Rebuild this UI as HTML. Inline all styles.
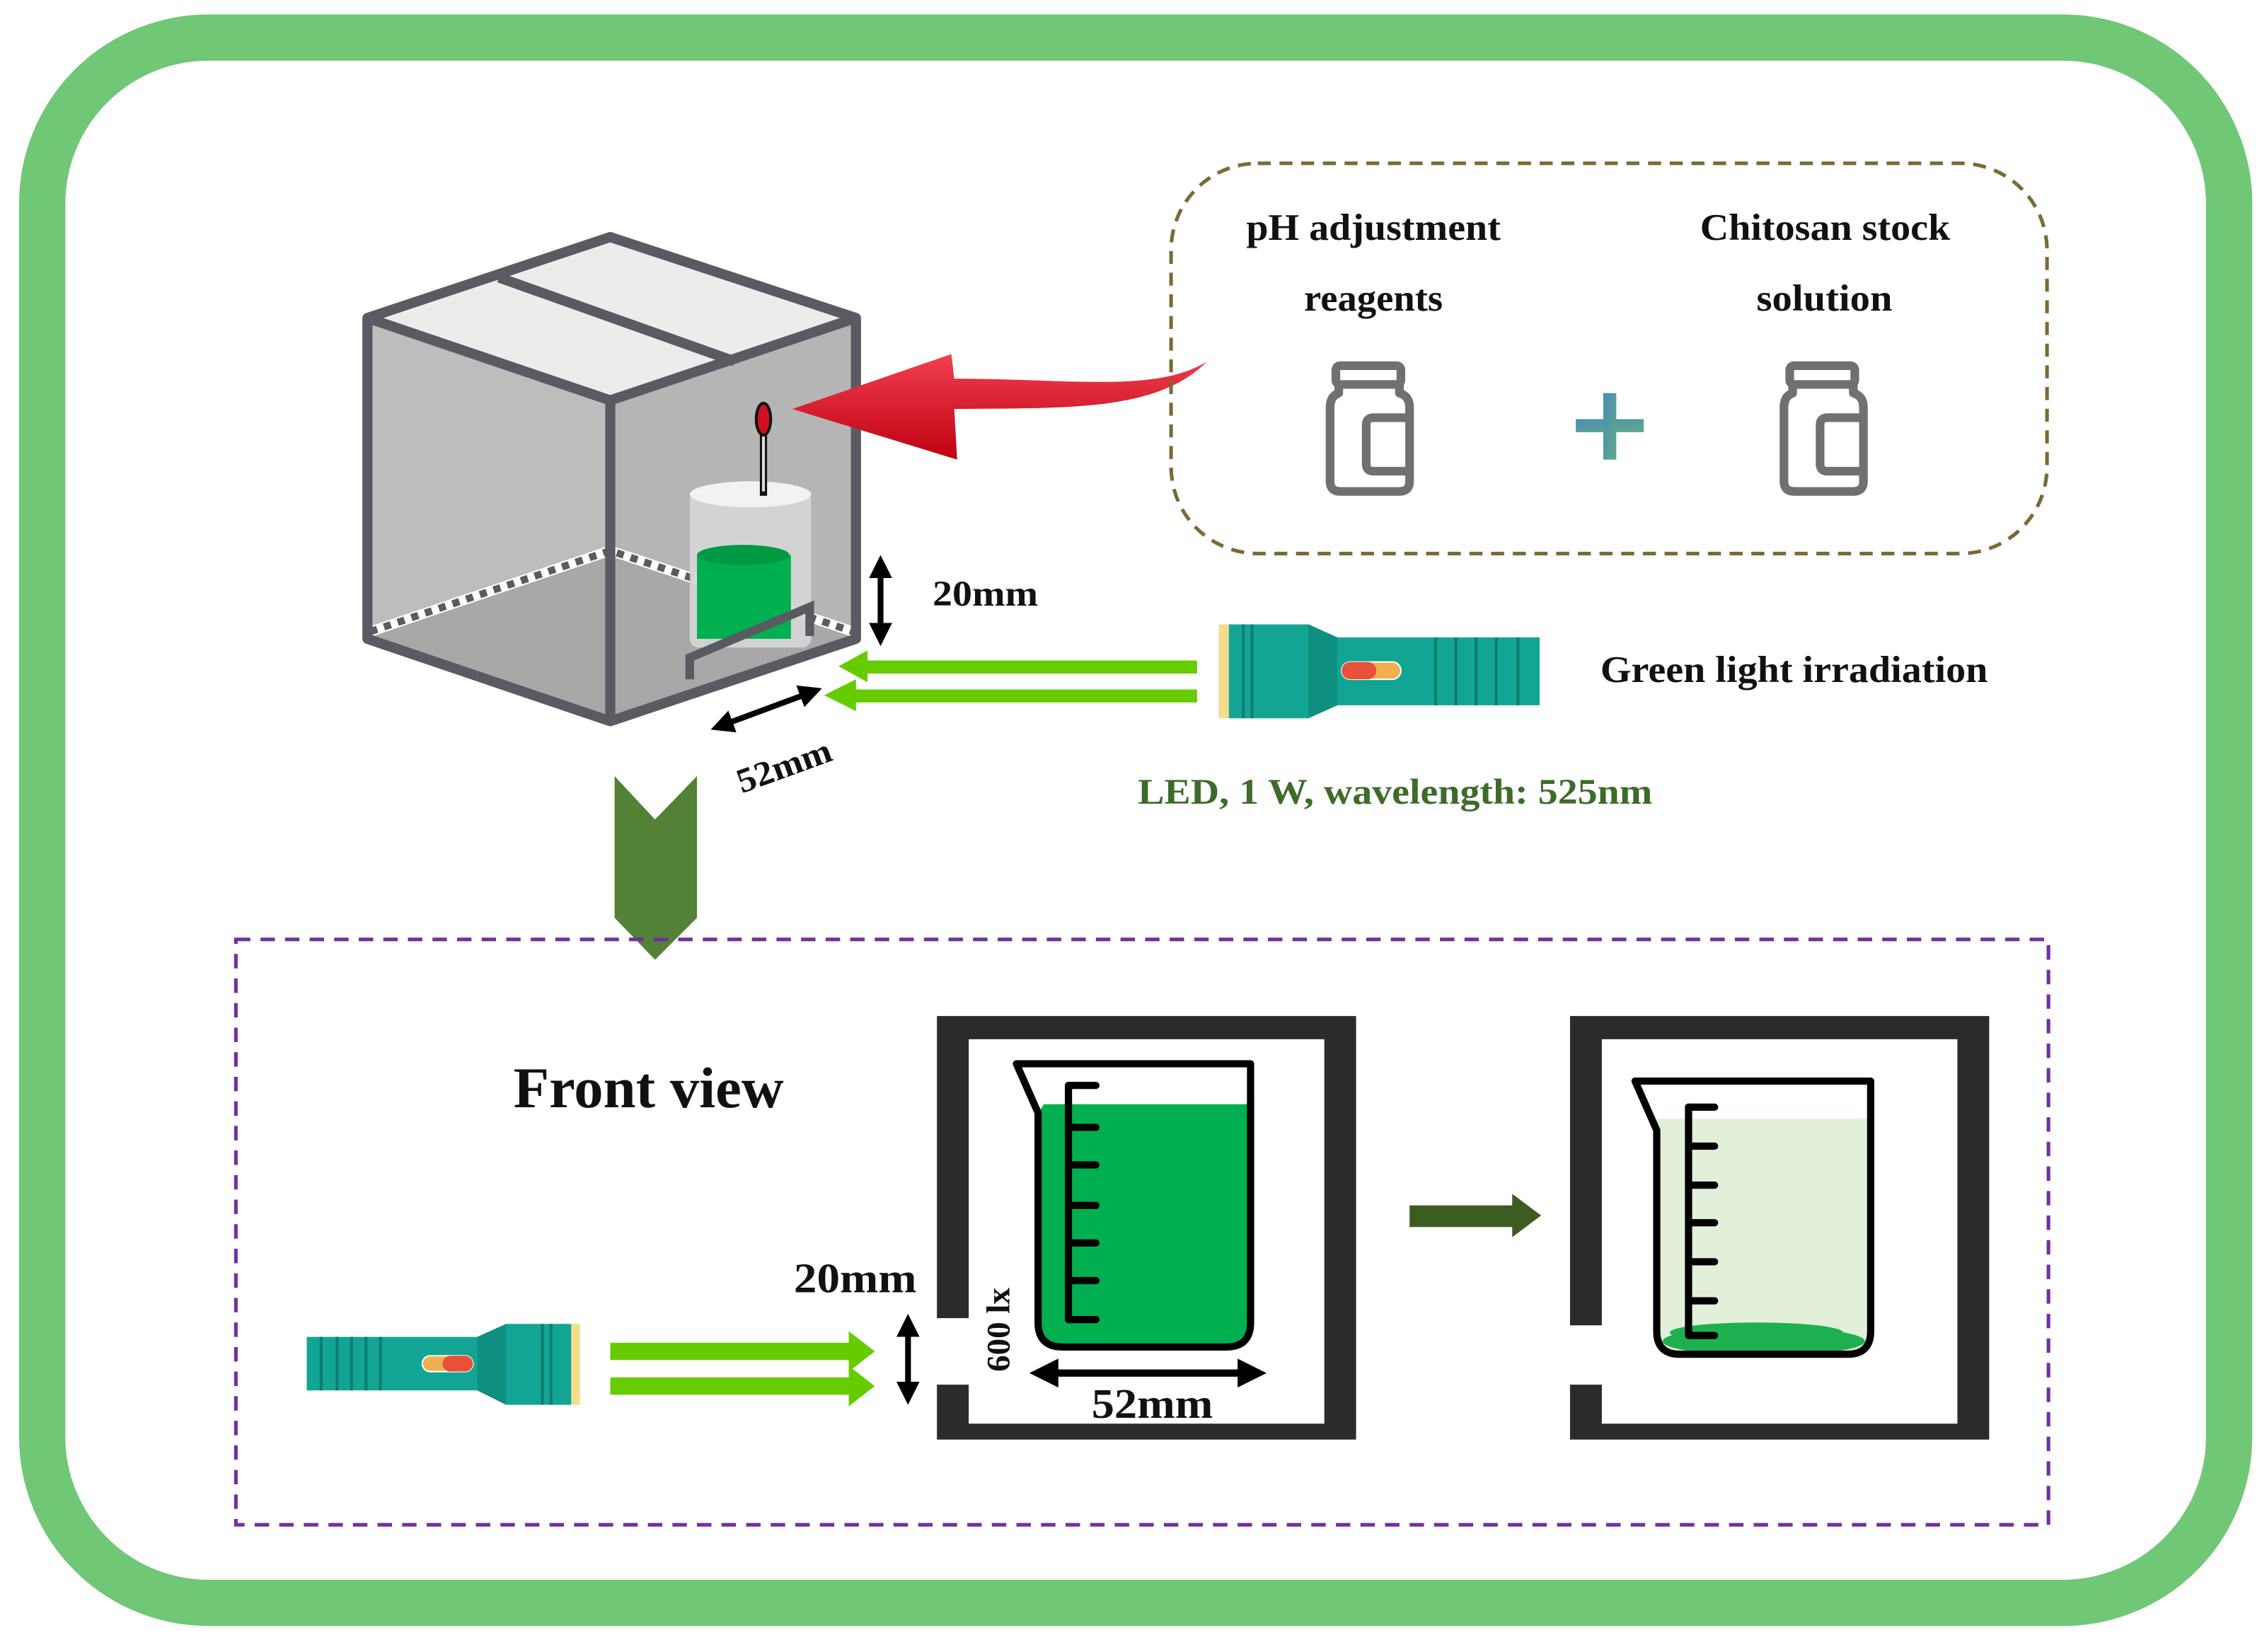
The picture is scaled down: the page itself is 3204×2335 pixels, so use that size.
<!DOCTYPE html>
<html><head><meta charset="utf-8"><style>
html,body{margin:0;padding:0;background:#fff;}
svg{display:block;}
text{font-family:"Liberation Serif",serif;font-weight:bold;fill:#111;}
</style></head><body>
<svg width="3204" height="2335" viewBox="0 0 1568 1143" xmlns="http://www.w3.org/2000/svg">
<defs>
<marker id="ah" viewBox="0 0 10 10" refX="5" refY="5" markerWidth="4" markerHeight="4" orient="auto-start-reverse"><path d="M0,0 L10,5 L0,10 z" fill="#000"/></marker>
<linearGradient id="pl" x1="0" y1="0" x2="1" y2="1"><stop offset="0" stop-color="#4b8fb5"/><stop offset="1" stop-color="#5fa88a"/></linearGradient>
<linearGradient id="red" x1="0" y1="0" x2="0" y2="1"><stop offset="0" stop-color="#f04050"/><stop offset="1" stop-color="#c00010"/></linearGradient>
</defs>
<rect width="1568" height="1143" fill="#fff"/>
<rect x="29" y="26" width="1513" height="1083" rx="115" fill="#fff" stroke="#70c775" stroke-width="32"/>

<!-- cube -->
<polygon points="254,220 422,164 592,220 422,277" fill="#ececec"/>
<polygon points="254,220 422,277 422,499 254,442" fill="#bdbdbd"/>
<polygon points="422,277 592,220 592,442 422,499" fill="#b5b5b5"/>
<polygon points="254,442 422,381 592,442 422,499" fill="#a8a8a8"/>
<polyline points="256,437 422,381 590,437" fill="none" stroke="#fff" stroke-width="7"/>
<polyline points="256,437 422,381 590,437" fill="none" stroke="#5a5a63" stroke-width="5" stroke-dasharray="5,5"/>
<rect x="477" y="340" width="84" height="108" rx="6" fill="#d6d6d6" opacity="0.9"/>
<ellipse cx="519" cy="342" rx="42" ry="9" fill="#f2f2f2"/>
<rect x="482" y="384" width="65" height="58" fill="#00b050"/>
<ellipse cx="514" cy="384" rx="32" ry="7" fill="#009a45"/>
<polyline points="477,470 477,455 560,420 560,440" fill="none" stroke="#5a5a63" stroke-width="6"/>
<line x1="528" y1="290" x2="528" y2="343" stroke="#111" stroke-width="5"/>
<line x1="528" y1="292" x2="528" y2="340" stroke="#ddd" stroke-width="2"/>
<ellipse cx="528" cy="290" rx="5" ry="11" fill="#d01020" stroke="#111" stroke-width="2"/>
<g fill="none" stroke="#5a5a63" stroke-width="7" stroke-linejoin="round">
<polygon points="254,220 422,164 592,220 592,442 422,499 254,442"/>
<polyline points="254,220 422,277 592,220"/>
<line x1="422" y1="277" x2="422" y2="499"/>
<line x1="345" y1="192" x2="508" y2="250"/>
</g>
<path d="M835,250 C800,285 740,282 660,283 L662,318 L548,283 L658,245 L660,262 C740,262 800,272 835,250 Z" fill="url(#red)"/>
<line x1="609" y1="392" x2="609" y2="439" stroke="#000" stroke-width="4" marker-start="url(#ah)" marker-end="url(#ah)"/>
<text x="645" y="419" font-size="25" textLength="73" lengthAdjust="spacingAndGlyphs">20mm</text>
<g fill="#66cc00">
<polygon points="828,457 600,457 600,450 580,461 600,472 600,466 828,466"/>
<polygon points="828,477 592,477 592,470 570,481 592,492 592,486 828,486"/>
</g>
<line x1="499" y1="502" x2="561" y2="479" stroke="#000" stroke-width="4" marker-start="url(#ah)" marker-end="url(#ah)"/>
<text x="513" y="549" font-size="24" textLength="68" lengthAdjust="spacingAndGlyphs" transform="rotate(-20 513 549)">52mm</text>
<rect x="843" y="432" width="7" height="65" fill="#f3dc8a"/>
<polygon points="850,432 905,432 925,441 1065,441 1065,488 925,488 905,497 850,497" fill="#13a594"/>
<polygon points="905,432 925,441 925,488 905,497" fill="#0f8f80"/>
<g stroke="#0c7d70" stroke-width="2"><line x1="860" y1="432" x2="860" y2="497"/><line x1="866" y1="432" x2="866" y2="497"/><line x1="993" y1="441" x2="993" y2="488"/><line x1="1007" y1="441" x2="1007" y2="488"/><line x1="1021" y1="441" x2="1021" y2="488"/><line x1="1035" y1="441" x2="1035" y2="488"/><line x1="1050" y1="441" x2="1050" y2="488"/></g>
<rect x="928" y="458" width="41" height="12" rx="6" fill="#f0b050" stroke="#fff" stroke-width="1"/>
<rect x="928" y="458" width="24" height="12" rx="6" fill="#e8503a"/>
<text x="1107" y="472" font-size="26" textLength="268" lengthAdjust="spacingAndGlyphs">Green light irradiation</text>
<text x="787" y="556" font-size="25" textLength="356" lengthAdjust="spacingAndGlyphs" style="fill:#3d6b2a">LED, 1 W, wavelength: 525nm</text>
<rect x="810" y="113" width="606" height="270" rx="60" fill="none" stroke="#7a6a35" stroke-width="2.5" stroke-dasharray="9,6"/>
<text x="862" y="166" font-size="26" textLength="176" lengthAdjust="spacingAndGlyphs">pH adjustment</text>
<text x="902" y="215" font-size="26" textLength="96" lengthAdjust="spacingAndGlyphs">reagents</text>
<text x="1176" y="166" font-size="26" textLength="173" lengthAdjust="spacingAndGlyphs">Chitosan stock</text>
<text x="1215" y="215" font-size="26" textLength="94" lengthAdjust="spacingAndGlyphs">solution</text>
<g fill="none" stroke="#707070" stroke-width="6" stroke-linejoin="round">
<rect x="924" y="253" width="45" height="13" rx="3"/>
<path d="M926,266 L926,272 Q920,274 920,282 L920,333 Q920,340 927,340 L968,340 Q975,340 975,333 L975,282 Q975,274 968,272 L968,266"/>
<path d="M975,289 L950,289 Q945,289 945,294 L945,321 Q945,326 950,326 L975,326"/>
<rect x="1238" y="253" width="45" height="13" rx="3"/>
<path d="M1240,266 L1240,272 Q1234,274 1234,282 L1234,333 Q1234,340 1241,340 L1282,340 Q1289,340 1289,333 L1289,282 Q1289,274 1282,272 L1282,266"/>
<path d="M1289,289 L1264,289 Q1259,289 1259,294 L1259,321 Q1259,326 1264,326 L1289,326"/>
</g>
<rect x="1090" y="290" width="47" height="9" fill="url(#pl)"/>
<rect x="1109" y="272" width="9" height="46" fill="url(#pl)"/>
<polygon points="425,537 453,567 482,537 482,635 453,664 425,635" fill="#538135"/>
<rect x="163" y="650" width="1254" height="405" fill="none" stroke="#7030a0" stroke-width="2.5" stroke-dasharray="10,7"/>
<text x="355" y="766" font-size="40" textLength="187" lengthAdjust="spacingAndGlyphs">Front view</text>
<rect x="395" y="916" width="6" height="56" fill="#f3dc8a"/>
<polygon points="212,925 330,925 350,916 395,916 395,972 350,972 330,962 212,962" fill="#13a594"/>
<polygon points="330,925 350,916 350,972 330,962" fill="#0f8f80"/>
<g stroke="#0c7d70" stroke-width="2"><line x1="222" y1="925" x2="222" y2="962"/><line x1="233" y1="925" x2="233" y2="962"/><line x1="243" y1="925" x2="243" y2="962"/><line x1="253" y1="925" x2="253" y2="962"/><line x1="263" y1="925" x2="263" y2="962"/><line x1="375" y1="916" x2="375" y2="972"/><line x1="381" y1="916" x2="381" y2="972"/></g>
<rect x="292" y="938" width="35" height="11" rx="5.5" fill="#f0b050" stroke="#fff" stroke-width="1"/>
<rect x="306" y="938" width="21" height="11" rx="5.5" fill="#e8503a"/>
<g fill="#66cc00">
<polygon points="422,929 587,929 587,921 605,935 587,949 587,941 422,941"/>
<polygon points="422,953 587,953 587,945 605,959 587,973 587,965 422,965"/>
</g>
<line x1="628" y1="917" x2="628" y2="964" stroke="#000" stroke-width="4" marker-start="url(#ah)" marker-end="url(#ah)"/>
<text x="549" y="894" font-size="29" textLength="85" lengthAdjust="spacingAndGlyphs">20mm</text>
<path d="M648,703 H938 V996 H648 V958 H670 V985 H916 V719 H670 V912 H648 Z" fill="#2b2b2b" fill-rule="evenodd"/>
<path d="M718,770 L718,915 Q718,932 735,932 L848,932 Q865,932 865,915 L865,764 L722,764 Z" fill="#00b050"/>
<path d="M703,736 L865,736 L865,915 Q865,932 848,932 L735,932 Q718,932 718,915 L718,770 Z" fill="none" stroke="#000" stroke-width="5" stroke-linejoin="round"/>
<g stroke="#000" stroke-width="5" stroke-linecap="round"><line x1="739" y1="751" x2="739" y2="913"/>
<line x1="739" y1="751" x2="758" y2="751"/><line x1="739" y1="780" x2="758" y2="780"/><line x1="739" y1="806" x2="758" y2="806"/><line x1="739" y1="834" x2="758" y2="834"/><line x1="739" y1="860" x2="758" y2="860"/><line x1="739" y1="886" x2="758" y2="886"/><line x1="739" y1="913" x2="758" y2="913"/></g>
<line x1="722" y1="950" x2="866" y2="950" stroke="#000" stroke-width="5" marker-start="url(#ah)" marker-end="url(#ah)"/>
<text x="755" y="981" font-size="29" textLength="84" lengthAdjust="spacingAndGlyphs">52mm</text>
<text x="698" y="920" font-size="23" text-anchor="middle" transform="rotate(-90 698 920)">600 lx</text>
<polygon points="975,834 1046,834 1046,826 1066,841 1046,856 1046,849 975,849" fill="#3d5c22"/>
<path d="M1086,703 H1376 V996 H1086 V958 H1108 V985 H1354 V719 H1108 V917 H1086 Z" fill="#2b2b2b" fill-rule="evenodd"/>
<path d="M1146,780 L1146,921 Q1146,937 1162,937 L1278,937 Q1294,937 1294,921 L1294,774 L1144,774 Z" fill="#e2f0d9"/>
<g fill="#1eb050">
<ellipse cx="1220" cy="928" rx="70" ry="10"/><ellipse cx="1215" cy="922" rx="60" ry="7"/>
</g>
<path d="M1131,748 L1294,748 L1294,921 Q1294,937 1278,937 L1162,937 Q1146,937 1146,921 L1146,782 Z" fill="none" stroke="#000" stroke-width="5" stroke-linejoin="round"/>
<g stroke="#000" stroke-width="5" stroke-linecap="round"><line x1="1168" y1="766" x2="1168" y2="924"/>
<line x1="1168" y1="766" x2="1186" y2="766"/><line x1="1168" y1="793" x2="1186" y2="793"/><line x1="1168" y1="820" x2="1186" y2="820"/><line x1="1168" y1="846" x2="1186" y2="846"/><line x1="1168" y1="873" x2="1186" y2="873"/><line x1="1168" y1="900" x2="1186" y2="900"/><line x1="1168" y1="924" x2="1186" y2="924"/></g>
</svg>
</body></html>
